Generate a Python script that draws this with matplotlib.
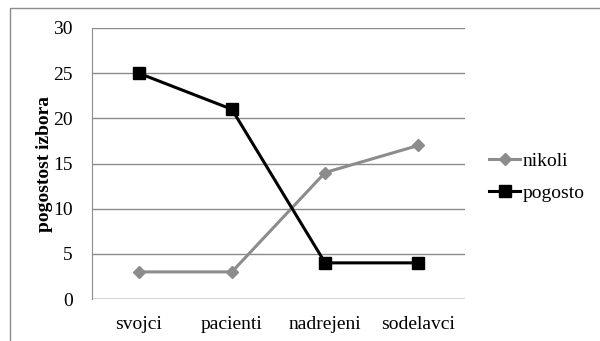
import matplotlib.pyplot as plt
from matplotlib.patches import Rectangle

# Podatki
kategorije = ['svojci', 'pacienti', 'nadrejeni', 'sodelavci']
nikoli = [3, 3, 14, 17]
pogosto = [25, 21, 4, 4]
yticks = [0, 5, 10, 15, 20, 25, 30]

plt.rcParams['font.family'] = ['Liberation Serif', 'DejaVu Serif']

fig = plt.figure(figsize=(6.0, 3.41), dpi=100)
ax = fig.add_axes([92 / 600, 1 - 299 / 341, (465 - 92) / 600, (299 - 28) / 341])

# okvir grafa
fig.patches.append(Rectangle((10 / 600, -0.1), 1.0, 1 - 8 / 341 + 0.1,
                             transform=fig.transFigure, fill=False,
                             edgecolor='#8c8c8c', linewidth=1.0))

x = range(len(kategorije))
ax.plot(x, nikoli, color='#8c8c8c', lw=2.2, marker='D', markersize=6.5,
        label='nikoli', zorder=3)
ax.plot(x, pogosto, color='black', lw=2.2, marker='s', markersize=8.5,
        label='pogosto', zorder=4)

ax.set_xlim(-0.5, 3.5)
ax.set_ylim(0, 30)
ax.set_yticks(yticks)
ax.set_xticks(list(x))
ax.set_xticklabels(kategorije)
ax.yaxis.grid(True, color='#8c8c8c', lw=1.0)
ax.set_axisbelow(True)
for s in ['top', 'right', 'bottom']:
    ax.spines[s].set_visible(False)
ax.spines['left'].set_color('#8c8c8c')
ax.tick_params(axis='both', length=0, labelsize=14)
ax.tick_params(axis='x', pad=12)
ax.tick_params(axis='y', pad=14)

# spodnja mrezna crta pri 0
ax.axhline(0, color='#8c8c8c', lw=1.0, zorder=1)

ax.set_ylabel('pogostost izbora', fontsize=14, fontweight='bold', labelpad=0)

ax.legend(loc='center left', bbox_to_anchor=(1.065, 0.45), frameon=False,
          fontsize=14, handlelength=1.6, handletextpad=0.1, labelspacing=0.75,
          borderpad=0, borderaxespad=0)

fig.savefig('out.png', dpi=100)
